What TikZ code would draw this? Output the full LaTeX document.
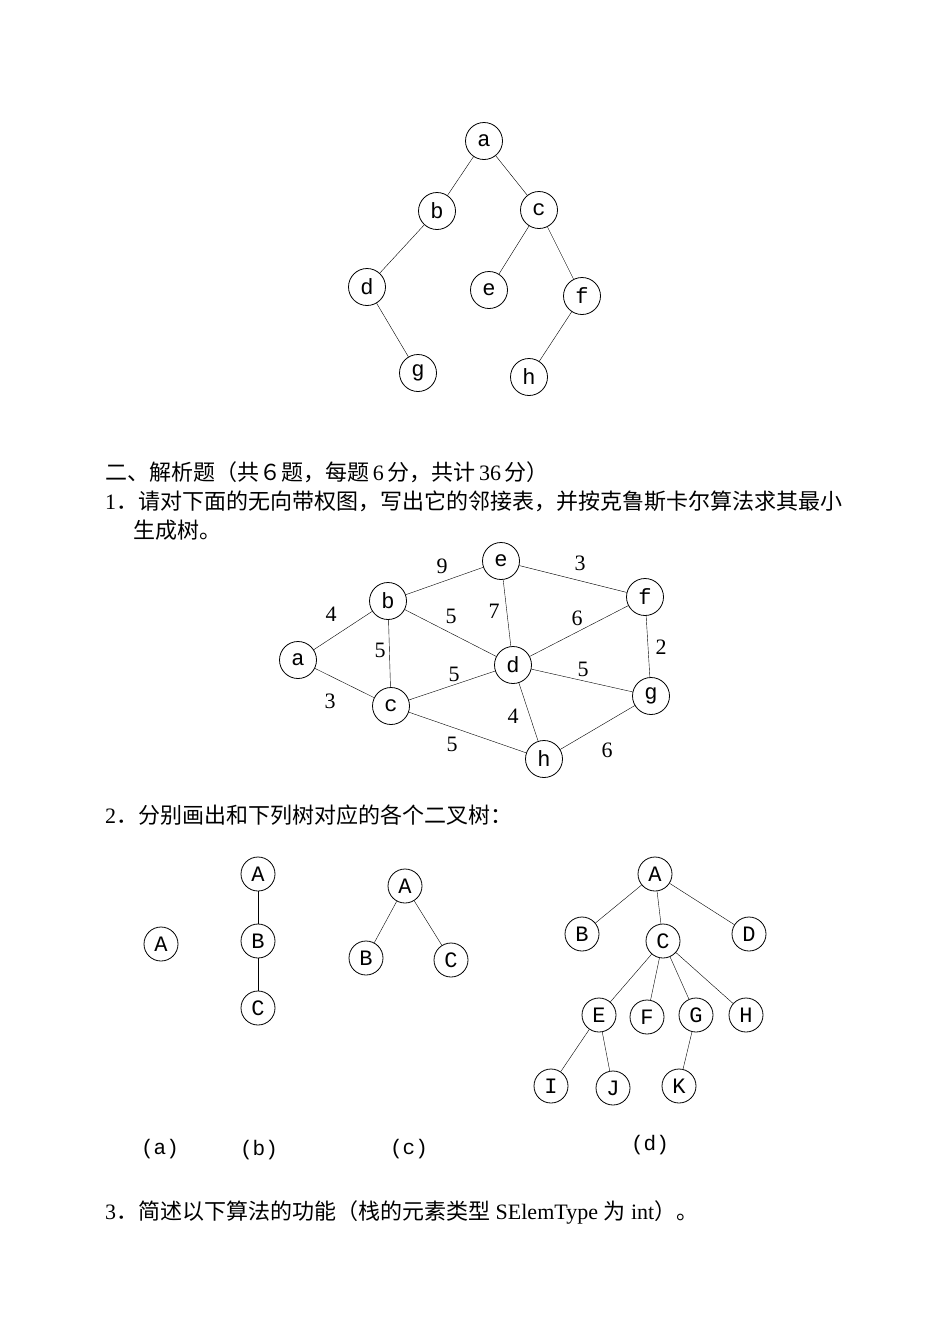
\documentclass[tikz,border=0pt]{standalone}
\usepackage{fontspec}
\setmainfont{Liberation Serif}
\newfontfamily\cjk{Noto Sans CJK SC}
\newfontfamily\lab{Liberation Mono}
\begin{document}
\begin{tikzpicture}[x=1pt,y=-1pt,
  v/.style={circle,draw,thick,minimum size=37pt,inner sep=0pt,font=\lab\fontsize{22}{22}\selectfont},
  sv/.style={v,minimum size=34pt},
  w/.style={font=\fontsize{22}{22}\selectfont},
  lb/.style={font=\lab\fontsize{21}{21}\selectfont},
  t/.style={anchor=west,font=\fontsize{22}{26}\selectfont,inner sep=0pt},
  e/.style={thin}]
\useasboundingbox (0,0) rectangle (950,1342);
% top tree
\node[v] (a) at (484,141) {a};
\node[v] (b) at (437,211) {b};
\node[v] (c) at (539,210) {c};
\node[v] (d) at (367,287) {d};
\node[v] (e) at (489,290) {e};
\node[v] (f) at (582,296) {f};
\node[v] (g) at (418,373) {g};
\node[v] (h) at (529,377) {h};
\draw[e] (a)--(b) (a)--(c) (b)--(d) (c)--(e) (c)--(f) (d)--(g) (f)--(h);
% text
\node[t] (t1) at (105,472) {{\cjk 二、解析题（共６题，每题}\,6\,{\cjk 分，共计}\,36\,{\cjk 分）}};
\node[t] (t2) at (105,501) {1{\cjk ．请对下面的无向带权图，写出它的邻接表，并按克鲁斯卡尔算法求其最小}};
\node[t] (t3) at (133,530) {\cjk 生成树。};
% weighted graph
\node[v] (ge) at (501,561) {e};
\node[v] (gb) at (388,601) {b};
\node[v] (gf) at (645,597) {f};
\node[v] (ga) at (298,660) {a};
\node[v] (gd) at (513,665) {d};
\node[v] (gc) at (391,706) {c};
\node[v] (gg) at (651,696) {g};
\node[v] (gh) at (544,759) {h};
\draw[e] (gb)--(ge) (ge)--(gf) (ga)--(gb) (gb)--(gd) (ge)--(gd) (gf)--(gd) (gf)--(gg)
  (gb)--(gc) (ga)--(gc) (gc)--(gd) (gd)--(gg) (gd)--(gh) (gc)--(gh) (gh)--(gg);
\node[w] (w1) at (442,566) {9};
\node[w] (w2) at (580,563) {3};
\node[w] (w3) at (331,614) {4};
\node[w] (w4) at (451,616) {5};
\node[w] (w5) at (494,611) {7};
\node[w] (w6) at (577,618) {6};
\node[w] (w7) at (661,647) {2};
\node[w] (w8) at (380,650) {5};
\node[w] (w9) at (330,701) {3};
\node[w] (w10) at (454,674) {5};
\node[w] (w11) at (583,669) {5};
\node[w] (w12) at (513,716) {4};
\node[w] (w13) at (452,744) {5};
\node[w] (w14) at (607,750) {6};
\node[t] (t4) at (105,815) {2{\cjk ．分别画出和下列树对应的各个二叉树：}};
% trees
\node[sv] (aA) at (161,944) {A};
\node[sv] (bA) at (258,874) {A};
\node[sv] (bB) at (258,941) {B};
\node[sv] (bC) at (258,1008) {C};
\draw[e] (bA)--(bB) (bB)--(bC);
\node[sv] (cA) at (405,886) {A};
\node[sv] (cB) at (366,958) {B};
\node[sv] (cC) at (451,960) {C};
\draw[e] (cA)--(cB) (cA)--(cC);
\node[sv] (dA) at (655,874) {A};
\node[sv] (dB) at (582,934) {B};
\node[sv] (dC) at (663,941) {C};
\node[sv] (dD) at (749,934) {D};
\node[sv] (dE) at (599,1015) {E};
\node[sv] (dF) at (647,1017) {F};
\node[sv] (dG) at (696,1015) {G};
\node[sv] (dH) at (746,1015) {H};
\node[sv] (dI) at (551,1086) {I};
\node[sv] (dJ) at (613,1088) {J};
\node[sv] (dK) at (679,1086) {K};
\draw[e] (dA)--(dB) (dA)--(dC) (dA)--(dD) (dC)--(dE) (dC)--(dF) (dC)--(dG) (dC)--(dH)
  (dE)--(dI) (dE)--(dJ) (dG)--(dK);
\node[lb] (la) at (160,1149) {(a)};
\node[lb] (lbb) at (259,1150) {(b)};
\node[lb] (lc) at (409,1149) {(c)};
\node[lb] (ld) at (650,1145) {(d)};
\node[t] (t5) at (105,1212) {3{\cjk ．简述以下算法的功能（栈的元素类型} SElemType {\cjk 为} int{\cjk ）。}};
\end{tikzpicture}
\end{document}
